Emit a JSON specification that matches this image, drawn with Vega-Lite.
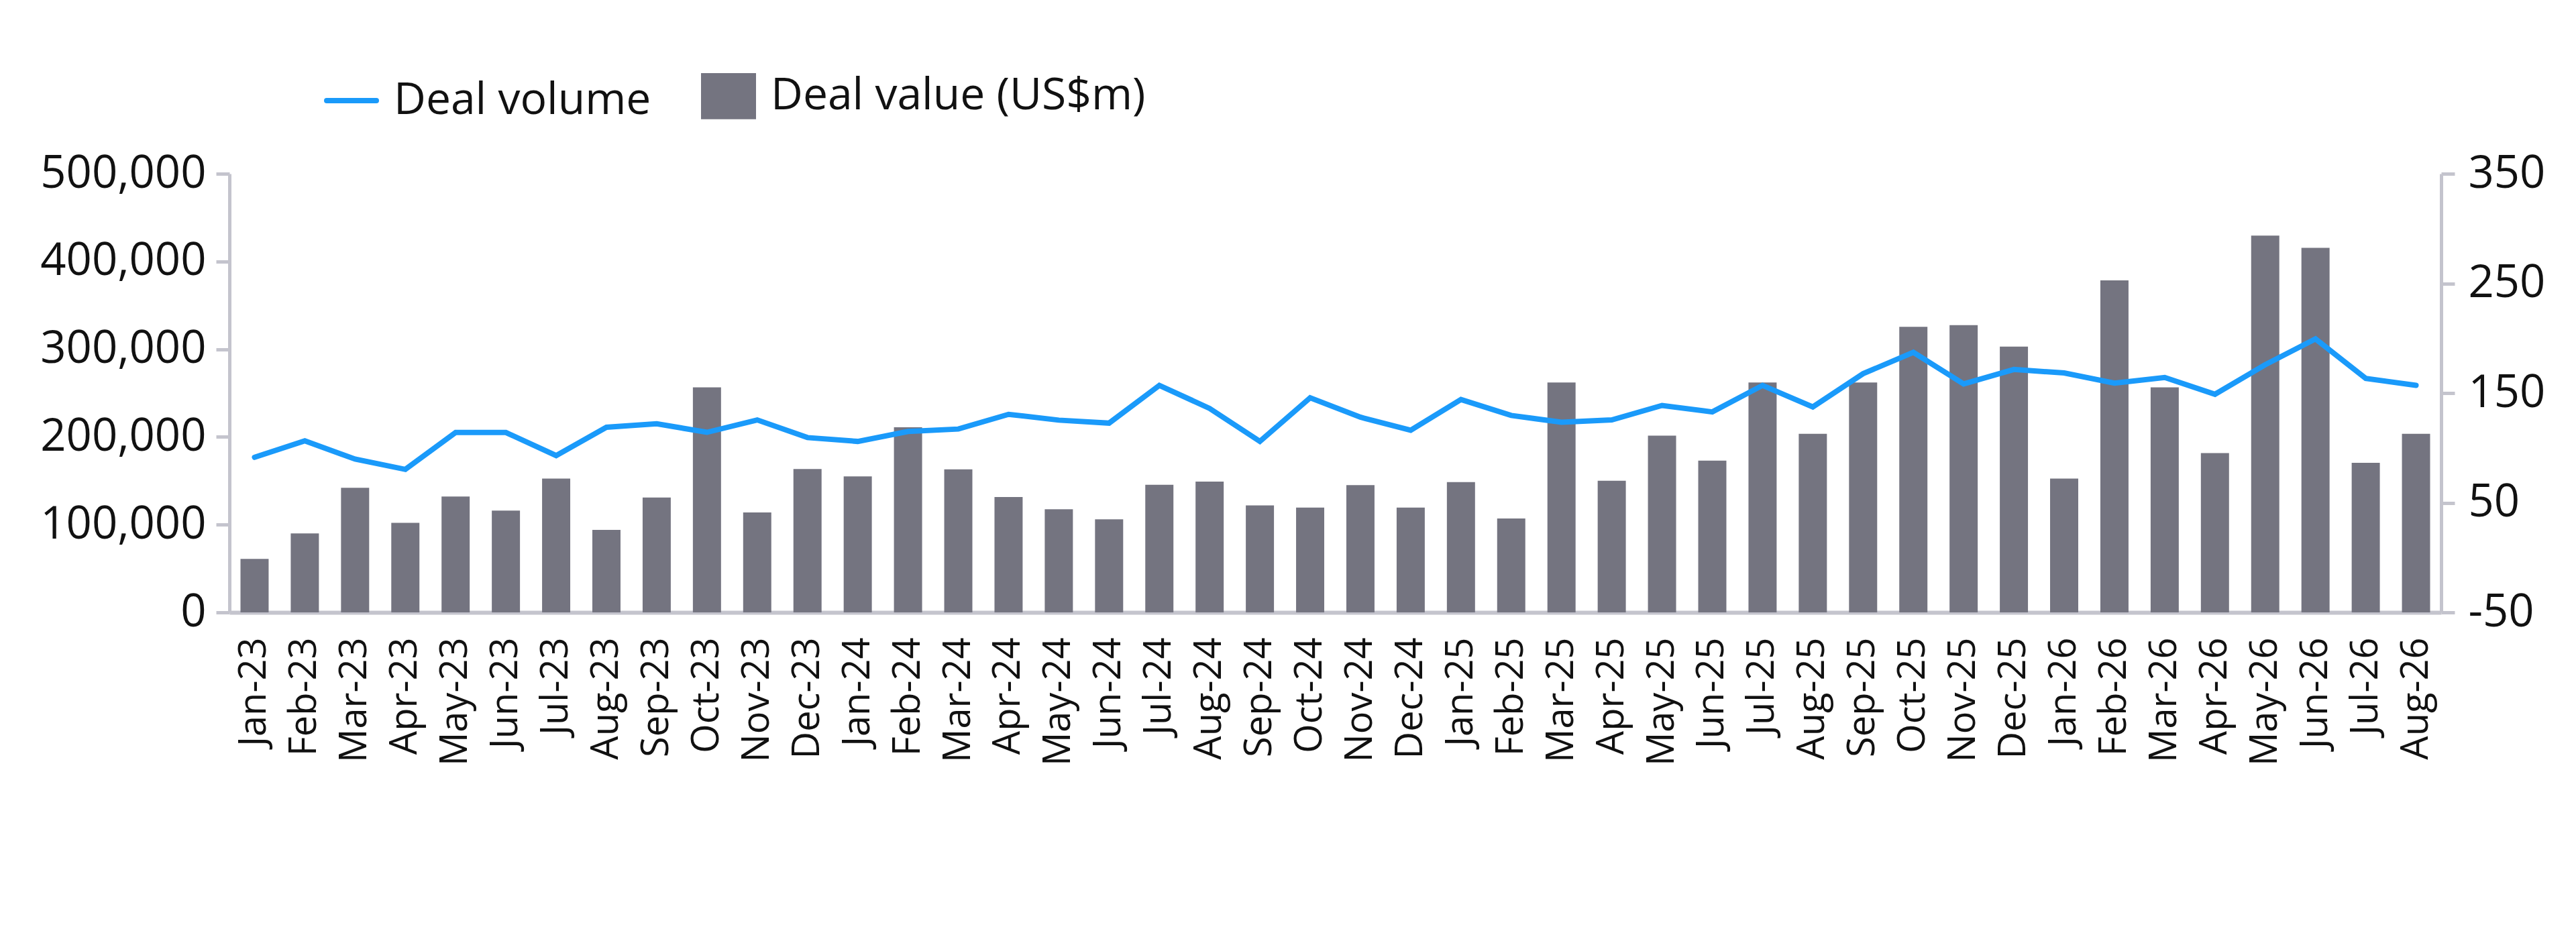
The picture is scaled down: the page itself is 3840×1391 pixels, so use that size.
{
  "$schema": "https://vega.github.io/schema/vega-lite/v6.json",
  "autosize": {"type": "none"},
  "padding": {"left": 342, "top": 259, "right": 201, "bottom": 478},
  "width": 3297,
  "height": 654,
  "background": "white",
  "config": {
    "view": {"stroke": null},
    "font": "Open Sans",
    "axis": {
      "grid": false,
      "domainColor": "#c4c4cd",
      "domainWidth": 5,
      "tickColor": "#c4c4cd",
      "tickWidth": 5,
      "tickSize": 20,
      "labelFont": "Open Sans",
      "labelColor": "#111111",
      "labelLimit": 0,
      "title": null
    },
    "legend": {
      "labelFont": "Open Sans",
      "labelFontSize": 66,
      "labelColor": "#111111",
      "labelLimit": 0
    }
  },
  "data": {
    "values": [
      {"month": "Jan-23", "value": 61000, "volume": 91.4},
      {"month": "Feb-23", "value": 90000, "volume": 106.4},
      {"month": "Mar-23", "value": 142000, "volume": 89.8},
      {"month": "Apr-23", "value": 102000, "volume": 80.4},
      {"month": "May-23", "value": 132000, "volume": 114},
      {"month": "Jun-23", "value": 116000, "volume": 114},
      {"month": "Jul-23", "value": 152500, "volume": 93},
      {"month": "Aug-23", "value": 94000, "volume": 118.8},
      {"month": "Sep-23", "value": 131000, "volume": 122},
      {"month": "Oct-23", "value": 256500, "volume": 114.2},
      {"month": "Nov-23", "value": 114000, "volume": 125.5},
      {"month": "Dec-23", "value": 163500, "volume": 109.4},
      {"month": "Jan-24", "value": 155000, "volume": 105.9},
      {"month": "Feb-24", "value": 211000, "volume": 115},
      {"month": "Mar-24", "value": 163000, "volume": 117.2},
      {"month": "Apr-24", "value": 131500, "volume": 130.6},
      {"month": "May-24", "value": 117500, "volume": 125.3},
      {"month": "Jun-24", "value": 106000, "volume": 122.6},
      {"month": "Jul-24", "value": 145500, "volume": 157},
      {"month": "Aug-24", "value": 149000, "volume": 136},
      {"month": "Sep-24", "value": 122000, "volume": 105.9},
      {"month": "Oct-24", "value": 119500, "volume": 145.7},
      {"month": "Nov-24", "value": 145000, "volume": 128},
      {"month": "Dec-24", "value": 119500, "volume": 116.1},
      {"month": "Jan-25", "value": 148500, "volume": 144.1},
      {"month": "Feb-25", "value": 107000, "volume": 129.6},
      {"month": "Mar-25", "value": 262000, "volume": 123.4},
      {"month": "Apr-25", "value": 150000, "volume": 125.5},
      {"month": "May-25", "value": 201500, "volume": 138.7},
      {"month": "Jun-25", "value": 173000, "volume": 132.8},
      {"month": "Jul-25", "value": 262000, "volume": 157},
      {"month": "Aug-25", "value": 203500, "volume": 137.4},
      {"month": "Sep-25", "value": 262000, "volume": 167.7},
      {"month": "Oct-25", "value": 325500, "volume": 187.1},
      {"month": "Nov-25", "value": 327500, "volume": 158.3},
      {"month": "Dec-25", "value": 303000, "volume": 171.5},
      {"month": "Jan-26", "value": 152500, "volume": 168.3},
      {"month": "Feb-26", "value": 378500, "volume": 159.1},
      {"month": "Mar-26", "value": 256500, "volume": 164.2},
      {"month": "Apr-26", "value": 181500, "volume": 148.9},
      {"month": "May-26", "value": 429500, "volume": 175.8},
      {"month": "Jun-26", "value": 415500, "volume": 199.4},
      {"month": "Jul-26", "value": 170500, "volume": 163.4},
      {"month": "Aug-26", "value": 203500, "volume": 157}
    ]
  },
  "encoding": {
    "x": {
      "field": "month",
      "type": "nominal",
      "sort": null,
      "scale": {"paddingInner": 0.44, "paddingOuter": 0.22},
      "axis": {
        "labelAngle": -90,
        "labelFontSize": 56,
        "labelPadding": 37,
        "ticks": false,
        "domainWidth": 6
      }
    }
  },
  "layer": [
    {
      "mark": {"type": "bar"},
      "encoding": {
        "y": {
          "field": "value",
          "type": "quantitative",
          "scale": {"domain": [0, 500000], "nice": false},
          "axis": {
            "orient": "left",
            "values": [0, 100000, 200000, 300000, 400000, 500000],
            "format": ",.0f",
            "labelFontSize": 67,
            "labelPadding": 15
          }
        },
        "color": {
          "datum": "Deal value (US$m)",
          "scale": {
            "domain": ["Deal volume", "Deal value (US$m)"],
            "range": ["#1a9afa", "#747480"]
          },
          "legend": {
            "title": null,
            "orient": "none",
            "direction": "horizontal",
            "legendX": 141,
            "legendY": -157,
            "padding": 0,
            "symbolSize": 5476,
            "labelOffset": 22,
            "columnPadding": 62,
            "encode": {
              "symbols": {
                "update": {
                  "shape": {"signal": "datum.value === 'Deal volume' ? 'stroke' : 'M-1,-0.82H1V0.82H-1Z'"},
                  "fill": {"signal": "datum.value === 'Deal volume' ? 'transparent' : '#747480'"},
                  "stroke": {"signal": "datum.value === 'Deal volume' ? '#1a9afa' : 'transparent'"},
                  "strokeWidth": {"value": 8},
                  "strokeCap": {"value": "round"},
                  "opacity": {"value": 1},
                  "fillOpacity": {"value": 1},
                  "strokeOpacity": {"value": 1}
                }
              }
            }
          }
        }
      }
    },
    {
      "mark": {"type": "line", "strokeWidth": 8, "strokeCap": "round", "strokeJoin": "miter"},
      "encoding": {
        "y": {
          "field": "volume",
          "type": "quantitative",
          "scale": {"domain": [-50, 350], "nice": false, "zero": false},
          "axis": {
            "orient": "right",
            "values": [-50, 50, 150, 250, 350],
            "labelExpr": "datum.value < 0 ? '-' + abs(datum.value) : datum.label",
            "labelFontSize": 67,
            "labelPadding": 20
          }
        },
        "color": {"datum": "Deal volume"}
      }
    }
  ],
  "resolve": {"scale": {"y": "independent"}}
}
